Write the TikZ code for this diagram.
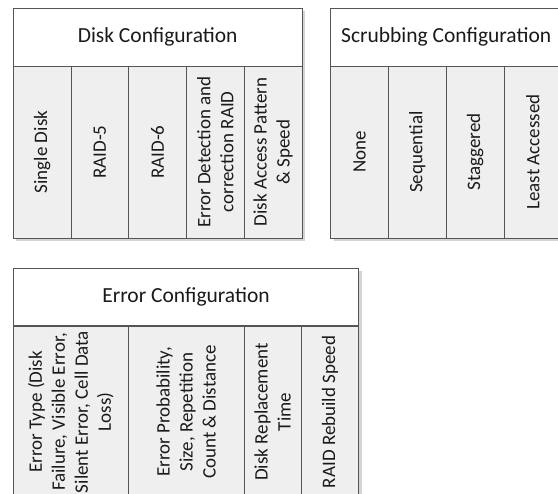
\documentclass[tikz,border=0pt]{standalone}
\usepackage{fontspec}
\setmainfont{Carlito}
\definecolor{linec}{HTML}{555555}
\definecolor{colfill}{HTML}{EFEFEF}
\definecolor{shadowc}{HTML}{D4D4D4}
\definecolor{txt}{HTML}{1A1A1A}
\begin{document}
\begin{tikzpicture}[x=1pt,y=-1pt,
  hdr/.style={draw=linec, fill=white, line width=0.8pt, minimum width=#1, minimum height=57.7, inner sep=0pt, font=\fontsize{21.5}{26}\selectfont, text=txt},
  col/.style={draw=linec, fill=colfill, line width=0.8pt, rotate=90, minimum height=#1, minimum width=172, inner sep=0pt, align=center, font=\fontsize{19}{23}\selectfont, text=txt},
  shad/.style={fill=shadowc, draw=none}
]
\useasboundingbox (0,0) rectangle (558,494);
\clip (0,0) rectangle (558,494);
% shadows
\fill[shad] (16.3,11.3) rectangle (305,241);
\fill[shad] (333.7,11.3) rectangle (564.7,241);
\fill[shad] (16.3,271) rectangle (361.7,501);

% Disk Configuration
\node[hdr=288.7] (dh) at (157.65,37.15) {Disk Configuration};
\node[col=57.74] (d1) at (42.17,152) {Single Disk};
\node[col=57.74] (d2) at (99.91,152) {RAID-5};
\node[col=57.74] (d3) at (157.65,152) {RAID-6};
\node[col=57.74] (d4) at (215.39,152) {Error Detection and\\correction RAID};
\node[col=57.74] (d5) at (273.13,152) {Disk Access Pattern\\\& Speed};

% Scrubbing Configuration
\node[hdr=231] (sh) at (446.2,37.15) {Scrubbing Configuration};
\node[col=57.75] (s1) at (359.58,152) {None};
\node[col=57.75] (s2) at (417.33,152) {Sequential};
\node[col=57.75] (s3) at (475.08,152) {Staggered};
\node[col=57.75] (s4) at (532.83,152) {Least Accessed};

% Error Configuration
\node[hdr=345.4] (eh) at (186,297) {Error Configuration};
\node[col=115.1] (e1) at (70.85,412) {Error Type (Disk\\Failure, Visible Error,\\Silent Error, Cell Data\\Loss)};
\node[col=115.5] (e2) at (186.15,412) {Error Probability,\\Size, Repetition\\Count \& Distance};
\node[col=57.4] (e3) at (272.6,412) {Disk Replacement\\Time};
\node[col=57.4] (e4) at (330,412) {RAID Rebuild Speed};
\end{tikzpicture}
\end{document}
